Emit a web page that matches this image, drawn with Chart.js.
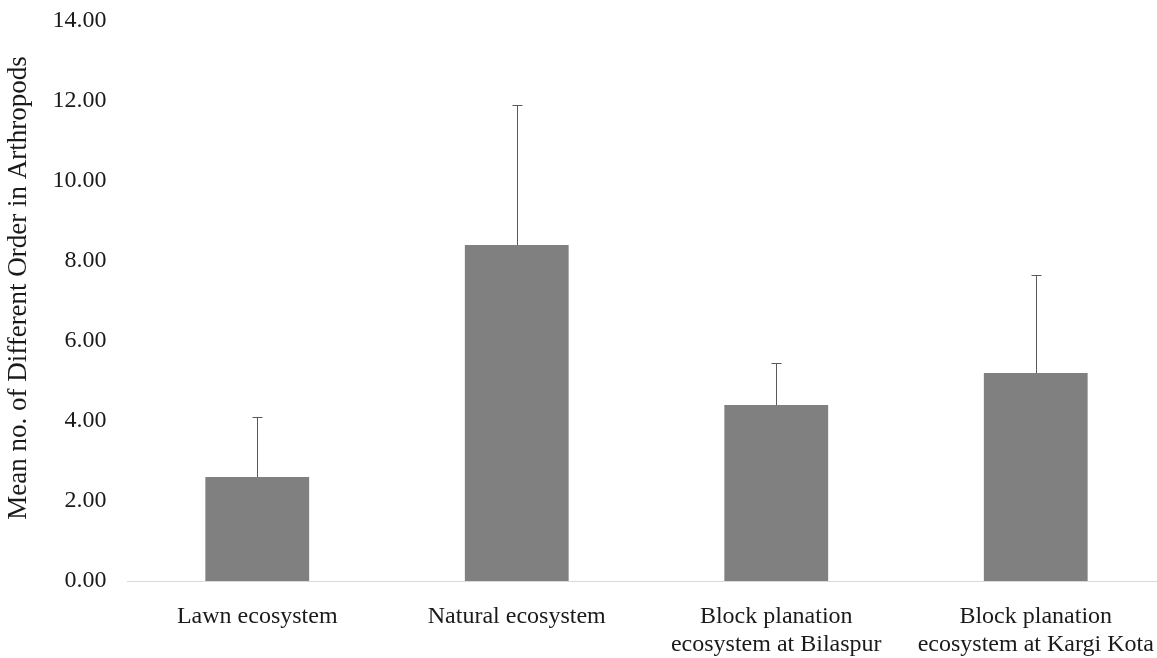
<!DOCTYPE html>
<html>
<head>
<meta charset="utf-8">
<script src="https://cdn.jsdelivr.net/npm/chart.js@4.4.0/dist/chart.umd.min.js"></script>
<style>
  html, body { margin: 0; padding: 0; background: #ffffff; overflow: hidden; }
  #wrap { width: 1157px; height: 658px; overflow: hidden; }
</style>
</head>
<body>
<div id="wrap"><canvas id="c" width="1170" height="658"></canvas></div>
<script>
const categories = [
  "Lawn ecosystem",
  "Natural ecosystem",
  ["Block planation", "ecosystem at Bilaspur"],
  ["Block planation", "ecosystem at Kargi Kota"]
];
const means = [2.6, 8.4, 4.4, 5.2];
const errors = [1.5, 3.5, 1.04, 2.45];
const yTicks = [0, 2, 4, 6, 8, 10, 12, 14];
const yTitle = 'Mean no. of Different Order in Arthropods';

const errorBars = {
  id: 'errorBars',
  afterDatasetsDraw(chart) {
    const ctx = chart.ctx;
    const meta = chart.getDatasetMeta(0);
    const y = chart.scales.y;
    ctx.save();
    ctx.strokeStyle = '#595959';
    ctx.lineWidth = 1;
    meta.data.forEach((bar, i) => {
      const x = Math.round(bar.x) + 0.5;
      const yb = y.getPixelForValue(means[i]);
      const yt = Math.round(y.getPixelForValue(means[i] + errors[i])) + 0.5;
      ctx.beginPath();
      ctx.moveTo(x, yb);
      ctx.lineTo(x, yt);
      ctx.moveTo(x - 5, yt);
      ctx.lineTo(x + 5, yt);
      ctx.stroke();
    });
    ctx.restore();
  }
};

const yTitlePlugin = {
  id: 'yTitlePlugin',
  afterDraw(chart) {
    const ctx = chart.ctx;
    const area = chart.chartArea;
    ctx.save();
    ctx.fillStyle = '#1a1a1a';
    ctx.font = '27px "Liberation Serif"';
    ctx.textAlign = 'center';
    ctx.textBaseline = 'middle';
    ctx.translate(19, (area.top + area.bottom) / 2 - 13);
    ctx.rotate(-Math.PI / 2);
    ctx.fillText(yTitle, 0, 0);
    ctx.restore();
  }
};

new Chart(document.getElementById('c'), {
  type: 'bar',
  data: {
    labels: categories,
    datasets: [{
      data: means,
      backgroundColor: '#808080',
      borderWidth: 0,
      categoryPercentage: 1.0,
      barPercentage: 0.4
    }]
  },
  plugins: [errorBars, yTitlePlugin],
  options: {
    responsive: false,
    animation: false,
    devicePixelRatio: 1,
    layout: { padding: { top: 21, right: 4.5, bottom: 0, left: 0 } },
    plugins: { legend: { display: false }, tooltip: { enabled: false } },
    scales: {
      x: {
        grid: { display: false },
        border: { display: true, color: '#d9d9d9', width: 1 },
        ticks: {
          color: '#1a1a1a',
          font: { family: 'Liberation Serif', size: 24, lineHeight: 1.17 },
          padding: 14,
          maxRotation: 0,
          autoSkip: false
        },
        afterFit(scale) { scale.height = 77; scale.paddingLeft = 0; scale.paddingRight = 0; }
      },
      y: {
        min: 0,
        max: 14,
        afterBuildTicks(scale) { scale.ticks = yTicks.map(v => ({ value: v })); },
        grid: { display: false },
        border: { display: false },
        ticks: {
          color: '#1a1a1a',
          font: { family: 'Liberation Serif', size: 24 },
          padding: 13,
          callback: v => Number(v).toFixed(2)
        },
        afterFit(scale) { scale.width = 127.5; scale.paddingTop = 0; scale.paddingBottom = 0; }
      }
    }
  }
});
</script>
</body>
</html>
